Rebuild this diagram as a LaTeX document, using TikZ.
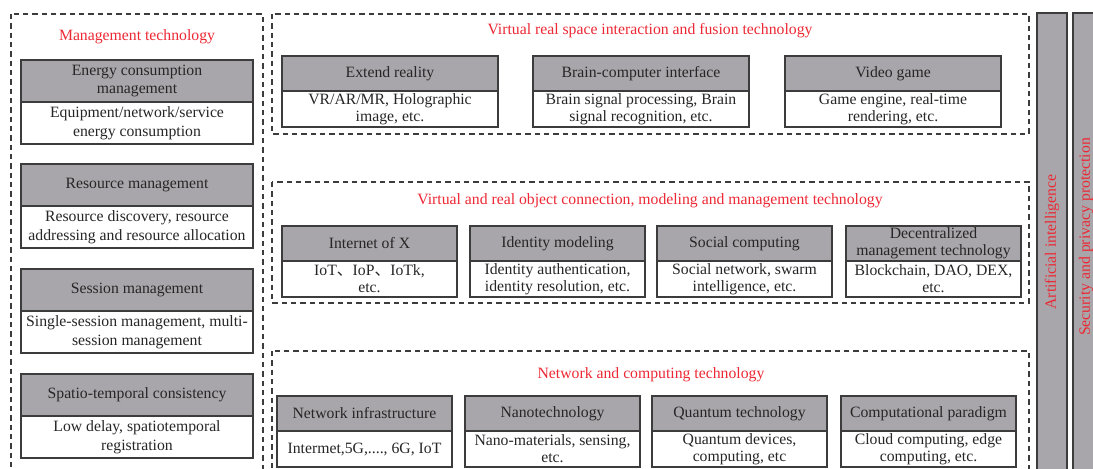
\documentclass[tikz,border=0pt]{standalone}
\usepackage{fontspec}
\setmainfont{Liberation Serif}
\newfontfamily\cjk{Noto Sans CJK SC}
\usepackage{tikz}
\usetikzlibrary{positioning}
\definecolor{techred}{RGB}{236,40,52}
\definecolor{headgray}{RGB}{168,166,170}
\definecolor{edgegray}{RGB}{60,60,60}

\begin{document}
\begin{tikzpicture}[x=0.75pt,y=0.75pt,yscale=-1,xscale=1,
    txt/.style={font=\fontsize{11.8}{12.8}\selectfont, align=center, inner sep=0pt, outer sep=0pt},
    head/.style={txt, draw=edgegray, line width=0.9pt, fill=headgray, text=black!85},
    body/.style={txt, draw=edgegray, line width=0.9pt, fill=white, text=black!85},
    lhead/.style={head, minimum width=174pt, minimum height=31.5pt},
    lbody/.style={body, minimum width=174pt, minimum height=31.5pt, font=\fontsize{11.8}{14.6}\selectfont},
    thead/.style={head, minimum width=162pt, minimum height=26.25pt},
    tbody/.style={body, minimum width=162pt, minimum height=27pt},
    mhead/.style={head, minimum width=131.25pt, minimum height=26.25pt},
    mbody/.style={body, minimum width=131.25pt, minimum height=27pt},
    dashbox/.style={draw=edgegray, line width=0.8pt, dash pattern=on 4pt off 3pt},
    title/.style={txt, text=techred},
    bar/.style={draw=edgegray, line width=0.9pt, fill=headgray}]

% frame of the picture
\clip (0,0) rectangle (1093,468);

%Shape: dashed groups
\draw[dashbox] (11,14) rectangle (263,480);
\draw[dashbox] (272,14) rectangle (1029,134);
\draw[dashbox] (272,182) rectangle (1029,303);
\draw[dashbox] (272,351) rectangle (1029,480);

%Shape: side bars
\draw[bar] (1037,13) rectangle (1067,505);
\draw[bar] (1073,13) rectangle (1112,505);
\node[title, rotate=90] (ai) at (1052,242) {Artificial intelligence};
\node[title, rotate=90] (sec) at (1086,237) {Security and privacy protection};

% Text Node: group titles
\node[title] (mgt) at (137,37) {Management technology};
\node[title] (vrs) at (650,31) {Virtual real space interaction and fusion technology};
\node[title] (vro) at (650,201) {Virtual and real object connection, modeling and management technology};
\node[title] (nct) at (651,375) {Network and computing technology};

% left column
\node[lhead, anchor=north west] (ene-h) at (21,60) {Energy consumption\\management};
\node[lbody, below=0pt of ene-h] (ene-b) {Equipment/network/service\\energy consumption};
\node[lhead, anchor=north west] (res-h) at (21,164) {Resource management};
\node[lbody, below=0pt of res-h] (res-b) {Resource discovery, resource\\addressing and resource allocation};
\node[lhead, anchor=north west] (ses-h) at (21,269) {Session management};
\node[lbody, below=0pt of ses-h] (ses-b) {Single-session management, multi-\\session management};
\node[lhead, anchor=north west] (spa-h) at (21,374) {Spatio-temporal consistency};
\node[lbody, below=0pt of spa-h] (spa-b) {Low delay, spatiotemporal\\registration};

% top row
\node[thead, anchor=north west] (ext-h) at (282,56) {Extend reality};
\node[tbody, below=0pt of ext-h] (ext-b) {VR/AR/MR, Holographic\\image, etc.};
\node[thead, anchor=north west] (bci-h) at (533,56) {Brain-computer interface};
\node[tbody, below=0pt of bci-h] (bci-b) {Brain signal processing, Brain\\signal recognition, etc.};
\node[thead, anchor=north west] (vid-h) at (785,56) {Video game};
\node[tbody, below=0pt of vid-h] (vid-b) {Game engine, real-time\\rendering, etc.};

% middle row
\node[mhead, anchor=north west] (iox-h) at (282,226) {Internet of X};
\node[mbody, below=0pt of iox-h] (iox-b) {IoT{\cjk 、}IoP{\cjk 、}IoTk,\\etc.};
\node[mhead, anchor=north west] (idm-h) at (470,226) {Identity modeling};
\node[mbody, below=0pt of idm-h] (idm-b) {Identity authentication,\\identity resolution, etc.};
\node[mhead, anchor=north west] (soc-h) at (657,226) {Social computing};
\node[mbody, below=0pt of soc-h] (soc-b) {Social network, swarm\\intelligence, etc.};
\node[mhead, anchor=north west] (dec-h) at (846,226) {Decentralized\\management technology};
\node[mbody, below=0pt of dec-h] (dec-b) {Blockchain, DAO, DEX,\\etc.};

% bottom row
\node[mhead, anchor=north west] (net-h) at (277,396) {Network infrastructure};
\node[mbody, below=0pt of net-h] (net-b) {Intermet,5G,...., 6G, IoT};
\node[mhead, anchor=north west] (nan-h) at (465,396) {Nanotechnology};
\node[mbody, below=0pt of nan-h] (nan-b) {Nano-materials, sensing,\\etc.};
\node[mhead, anchor=north west] (qua-h) at (652,396) {Quantum technology};
\node[mbody, below=0pt of qua-h] (qua-b) {Quantum devices,\\computing, etc};
\node[mhead, anchor=north west] (cmp-h) at (841,396) {Computational paradigm};
\node[mbody, below=0pt of cmp-h] (cmp-b) {Cloud computing, edge\\computing, etc.};
\end{tikzpicture}
\end{document}
